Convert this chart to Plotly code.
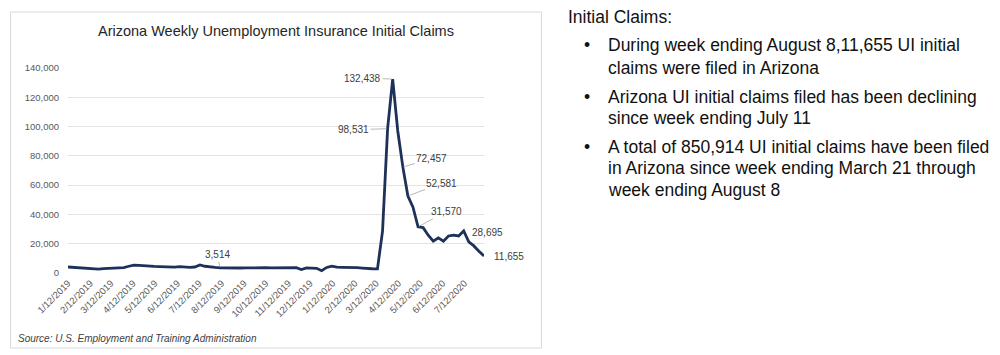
import pandas as pd
import plotly.graph_objects as go

# ---------------- data ----------------
week_start = "2019-01-12"
week_end = "2020-08-08"
claims_2019 = [
    4100, 3800, 3600,
    3400, 3200, 2800, 2600,
    3000, 3300, 3400, 3500, 3700,
    4600, 5400, 5200, 4800,
    4600, 4500, 4400, 4200,
    4100, 4000, 4300, 4000, 3900,
    4100, 5500, 4600, 4000,
    3800, 3514, 3400, 3300, 3300,
    3400, 3500, 3600, 3500,
    3700, 3600, 3500, 3600,
    3500, 3700, 3400, 3600, 2300,
    3400, 3300, 3200, 1600,
]
claims_2020 = [
    3800, 4700, 4000, 3900,
    4000, 3800, 3700, 3400, 3000,
    2900, 2800, 28600, 98531,
    132438, 97000, 72457, 52581,
    45000, 31570, 31000, 25800, 21700,
    24000, 21700, 25300, 25800,
    25300, 28695, 21200, 18500,
    14900, 11655,
]
claims = claims_2019 + claims_2020
dates = pd.date_range(week_start, week_end, freq="7D")
assert len(dates) == len(claims)

# labelled points
label_dates = ["2019-08-10", "2020-03-28", "2020-04-04", "2020-04-18",
               "2020-04-25", "2020-05-09", "2020-07-11", "2020-08-08"]
label_values = [3514, 98531, 132438, 72457, 52581, 31570, 28695, 11655]
label_text = ["3,514", "98,531", "132,438", "72,457", "52,581", "31,570",
              "28,695", "11,655"]

title_text = "Arizona Weekly Unemployment Insurance Initial Claims"
source_text = "Source: U.S. Employment and Training Administration"
side_heading = "Initial Claims:"
side_bullets = [
    ["During week ending August 8,11,655 UI initial",
     "claims were filed in Arizona"],
    ["Arizona UI initial claims filed has been declining",
     "since week ending July 11"],
    ["A total of 850,914 UI initial claims have been filed",
     "in Arizona since week ending March 21 through",
     "week ending August 8"],
]

# ---------------- layout geometry (pixels) ----------------
W, H = 1000, 355
PL, PR, PT, PB = 68, 484, 68.3, 272.7   # plot area


def px(x):
    return (x - PL) / (PR - PL)


def py(y):
    return (PB - y) / (PB - PT)


FONT = "Liberation Sans, Arial, sans-serif"

fig = go.Figure()
fig.add_trace(go.Scatter(
    x=dates, y=claims, mode="lines",
    line=dict(color="#1d3159", width=2.8),
    hoverinfo="x+y", showlegend=False,
))

# frame around the chart
fig.add_shape(type="rect", xref="paper", yref="paper",
              x0=px(10.5), x1=px(541.5), y0=py(347.5), y1=py(12.5),
              line=dict(color="#d9d9d9", width=1), fillcolor="rgba(0,0,0,0)",
              layer="below")

annotations = []
offsets = {
    "3,514": dict(ax=-3, ay=-13, arrow=True),
    "98,531": dict(ax=-34, ay=1, arrow=True),
    "132,438": dict(ax=-30, ay=-1, arrow=True),
    "72,457": dict(ax=29, ay=-8, arrow=True),
    "52,581": dict(ax=34, ay=-13, arrow=True),
    "31,570": dict(ax=28, ay=-15, arrow=True),
    "28,695": dict(ax=24, ay=2, arrow=False),
    "11,655": dict(ax=25, ay=1, arrow=False),
}
for d, v, t in zip(label_dates, label_values, label_text):
    o = offsets[t]
    if o["arrow"]:
        annotations.append(dict(
            x=d, y=v, xref="x", yref="y", text=t, showarrow=True,
            ax=o["ax"], ay=o["ay"], arrowhead=0, arrowwidth=0.8,
            arrowcolor="#a6a6a6", standoff=1,
            font=dict(family=FONT, size=10, color="#404040")))
    else:
        annotations.append(dict(
            x=d, y=v, xref="x", yref="y", text=t, showarrow=False,
            xshift=o["ax"], yshift=-o["ay"],
            font=dict(family=FONT, size=10, color="#404040")))

# title
annotations.append(dict(x=px(276), y=py(31), xref="paper", yref="paper",
                        text=title_text, showarrow=False, xanchor="center",
                        yanchor="middle",
                        font=dict(family=FONT, size=14.5, color="#262626")))
# source
annotations.append(dict(x=px(16), y=py(338), xref="paper", yref="paper",
                        text="<i>" + source_text + "</i>", showarrow=False,
                        xanchor="left", yanchor="middle",
                        font=dict(family=FONT, size=10, color="#404040")))

# side text
SIDE = 17.5
annotations.append(dict(x=px(566), y=py(17), xref="paper", yref="paper",
                        text=side_heading, showarrow=False, xanchor="left",
                        yanchor="middle",
                        font=dict(family=FONT, size=SIDE, color="#111111")))
line_ys = [[45, 68], [97, 118], [147, 168, 190]]
for lines, ys in zip(side_bullets, line_ys):
    annotations.append(dict(x=px(582), y=py(ys[0]), xref="paper",
                            yref="paper", text="•", showarrow=False,
                            xanchor="left", yanchor="middle",
                            font=dict(family=FONT, size=SIDE,
                                      color="#111111")))
    for ln, yy in zip(lines, ys):
        annotations.append(dict(x=px(606), y=py(yy), xref="paper",
                                yref="paper", text=ln, showarrow=False,
                                xanchor="left", yanchor="middle",
                                font=dict(family=FONT, size=SIDE,
                                          color="#111111")))

fig.update_layout(
    width=W, height=H,
    margin=dict(l=PL, r=W - PR, t=PT, b=H - PB, pad=0),
    paper_bgcolor="white", plot_bgcolor="white",
    showlegend=False,
    annotations=annotations,
    xaxis=dict(
        type="date",
        range=[week_start, week_end],
        tick0=week_start, dtick="M1",
        tickformat="%-m/%-d/%Y", tickangle=-45,
        showgrid=False, zeroline=False, showline=False,
        ticks="", ticklabelstandoff=2,
        tickfont=dict(family=FONT, size=9.5, color="#595959"),
        fixedrange=True, automargin=False,
    ),
    yaxis=dict(
        range=[0, 140000], dtick=20000, tick0=0,
        tickformat=",",
        showgrid=True, gridcolor="#e3e3e3", gridwidth=1,
        zeroline=False, showline=False, ticks="",
        ticklabelstandoff=8,
        tickfont=dict(family=FONT, size=9.5, color="#595959"),
        fixedrange=True, automargin=False,
    ),
)

fig.write_html(
    "out.html",
    config={"displayModeBar": False},
    post_script="document.body.style.margin='0';document.body.style.padding='0';",
)
